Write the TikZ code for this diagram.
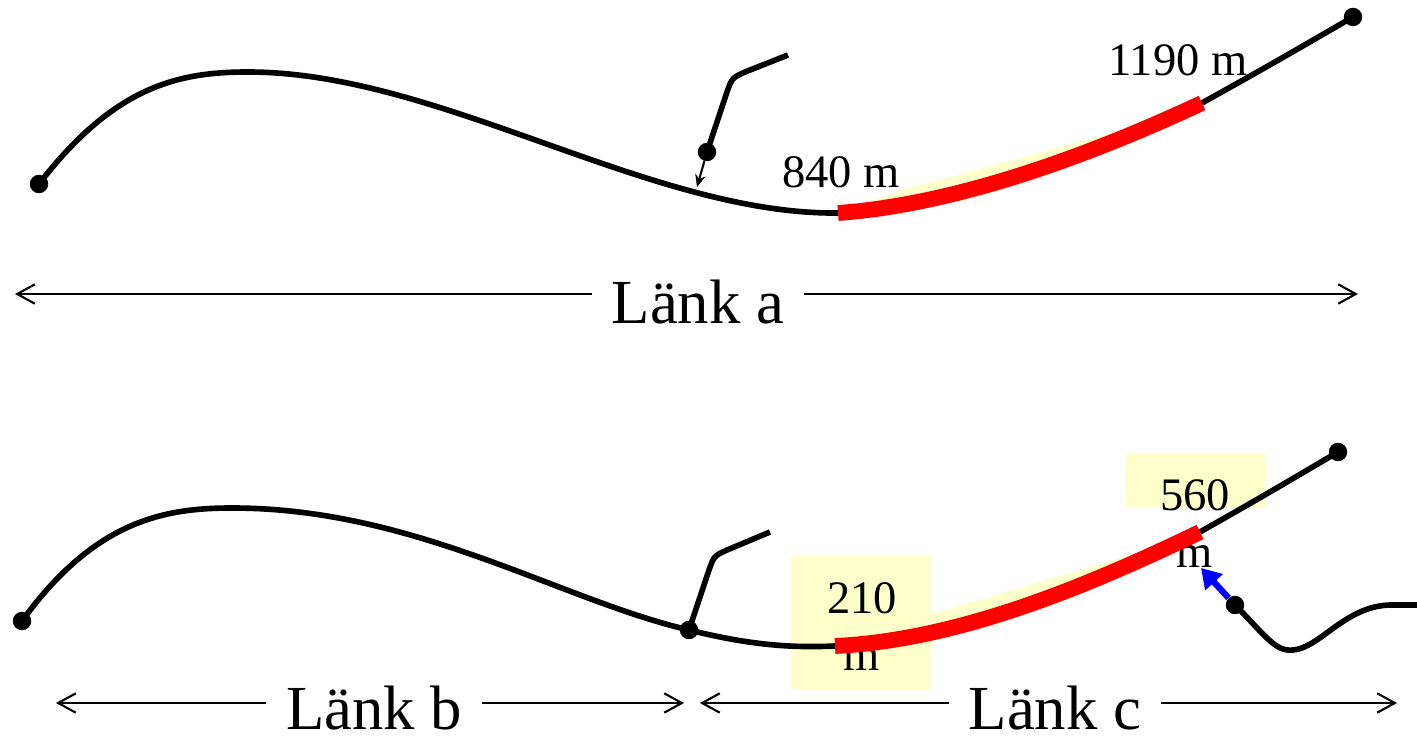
\documentclass[tikz,border=0pt]{standalone}
\usepackage{fontspec}
\setmainfont{Liberation Serif}
\usetikzlibrary{arrows.meta}
\definecolor{hilite}{HTML}{FFFFCC}

\begin{document}
\begin{tikzpicture}[
    x=0.02cm, y=-0.02cm,
    road/.style={line width=3.2pt, black},
    sect/.style={line width=9pt, red},
    endpt/.style={circle, fill=black, inner sep=0pt, minimum size=10.5pt},
    dim/.style={-{Straight Barb[length=10pt, width=11pt]}, line width=1.2pt},
    feed/.style={-{Stealth[length=7pt, width=6pt]}, line width=1.2pt},
    merge/.style={-{Triangle[length=11pt, width=13pt]}, line width=3.6pt, blue},
    dimlbl/.style={font=\fontsize{35.7}{40}\selectfont, inner xsep=11pt,
        inner ysep=0pt, text depth=0pt, anchor=base},
    lbl/.style={font=\fontsize{26.5}{30}\selectfont, inner sep=0pt, anchor=base}
]
\useasboundingbox (0,0) rectangle (1417,737);

% highlights
\fill[hilite] (791,556) rectangle (931,690);
\fill[hilite] (1126,453) rectangle (1266,508);
\fill[hilite] (838,213) -- (905,189) -- (1130,128) -- (1202,103)
    .. controls (1080,160) and (950,205) .. (838,213) -- cycle;
\fill[hilite] (835,646) -- (932,614) -- (1137,553) -- (1200,532)
    .. controls (1090,585) and (960,640) .. (835,646) -- cycle;

\node[lbl] (t840) at (841,187) {840 m};
\node[lbl] (t1190) at (1178,75) {1190 m};
\node[lbl] (t210) at (862,613) {210};
\node[lbl] (t210m) at (862,670) {m};
\node[lbl] (t560) at (1195,510) {560};
\node[lbl] (t560m) at (1195,567) {m};

% link a
\node[endpt] (a0) at (39,184) {};
\node[endpt] (a1) at (1353,17) {};
\node[endpt] (aj) at (707,152) {};
\coordinate (aS) at (838,213);
\coordinate (aE) at (1202,103);
\draw[road] (a0.center) .. controls (115,85) and (180,72) .. (248,72)
    .. controls (440,72) and (650,215) .. (aS);
\draw[road] (aE) .. controls (1270,65) .. (a1.center);
\draw[road] (aj.center) -- (727,92) .. controls (732,78) .. (745,72) -- (788,55);
\draw[sect] (aS) .. controls (950,205) and (1080,160) .. (aE);
\coordinate (aIn) at (697,187);
\draw[feed] (aj) -- (aIn);

% link b and c
\node[endpt] (b0) at (22,621) {};
\node[endpt] (bj) at (689,630) {};
\node[endpt] (b1) at (1338,452) {};
\node[endpt] (ramp) at (1235,605) {};
\coordinate (bS) at (835,646);
\coordinate (bE) at (1200,532);
\draw[road] (b0.center) .. controls (95,520) and (165,508) .. (232,508)
    .. controls (415,508) and (560,600) .. (bj.center)
    .. controls (750,645) and (790,648) .. (bS);
\draw[road] (bE) .. controls (1265,495) .. (b1.center);
\draw[road] (bj.center) -- (709,570) .. controls (714,556) .. (727,550) -- (770,532);
\draw[road] (ramp.center) .. controls (1265,635) and (1275,652) .. (1293,650)
    .. controls (1320,648) and (1345,606) .. (1390,605) -- (1417,605);
\draw[sect] (bS) .. controls (960,640) and (1090,585) .. (bE);
\coordinate (rIn) at (1201,568);
\draw[merge] (ramp) -- (rIn);

% dimensions
\node[dimlbl] (lankA) at (698,323) {Länk a};
\coordinate (aL) at (15,294);
\coordinate (aR) at (1358,294);
\draw[dim] (lankA.west |- aL) -- (aL);
\draw[dim] (lankA.east |- aR) -- (aR);

\node[dimlbl] (lankB) at (374,729) {Länk b};
\coordinate (bL) at (56,703);
\coordinate (bR) at (684,703);
\draw[dim] (lankB.west |- bL) -- (bL);
\draw[dim] (lankB.east |- bR) -- (bR);

\node[dimlbl] (lankC) at (1055,729) {Länk c};
\coordinate (cL) at (700,703);
\coordinate (cR) at (1397,703);
\draw[dim] (lankC.west |- cL) -- (cL);
\draw[dim] (lankC.east |- cR) -- (cR);
\end{tikzpicture}
\end{document}
